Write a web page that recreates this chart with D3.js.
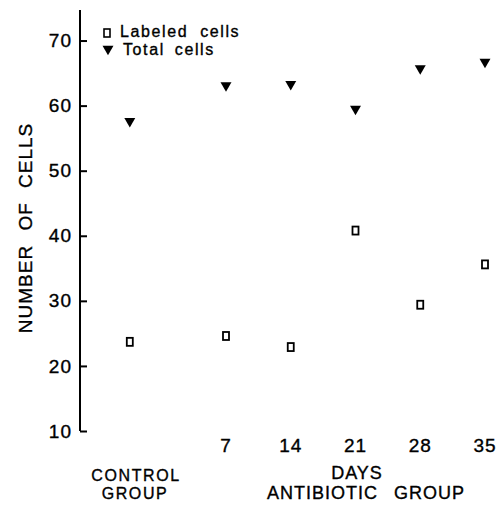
<!DOCTYPE html>
<html>
<head>
<meta charset="utf-8">
<script src="https://cdn.jsdelivr.net/npm/d3@7"></script>
<style>
  body { margin: 0; background: #fff; }
  text { font-family: "Liberation Sans", Arial, sans-serif; fill: #000; stroke: #000; stroke-width: 0.35px; }
</style>
</head>
<body>
<div id="chart"></div>
<script>
// Data
const days = [7, 14, 21, 28, 35];
const controlDay = -3.4; // where the control group sits on the day axis
const labeledControl = 23.7;
const totalControl = 57.6;
const labeledCells = [24.6, 22.9, 40.8, 29.4, 35.6];
const totalCells = [63.1, 63.3, 59.5, 65.7, 66.7];
const yTicks = [10, 20, 30, 40, 50, 60, 70];

const width = 501;
const height = 510;

const svg = d3.select('#chart')
  .append('svg')
  .attr('width', width)
  .attr('height', height);

// Scales
const x = d3.scaleLinear().domain([7, 35]).range([226, 485]);
const y = d3.scaleLinear().domain([10, 75]).range([431, 8]);

// Build points: control + antibiotic days
const labeledPts = [{ d: controlDay, v: labeledControl }]
  .concat(days.map((d, i) => ({ d, v: labeledCells[i] })));
const totalPts = [{ d: controlDay, v: totalControl }]
  .concat(days.map((d, i) => ({ d, v: totalCells[i] })));

// Y axis line
svg.append('line')
  .attr('x1', 80).attr('x2', 80)
  .attr('y1', y(74.7)).attr('y2', y(10))
  .attr('stroke', '#000')
  .attr('stroke-width', 2);

// Y ticks, pointing inward
const yAxis = svg.append('g')
  .attr('transform', 'translate(80,0)')
  .call(d3.axisLeft(y).tickValues(yTicks).tickSize(-7).tickPadding(8));
yAxis.select('.domain').remove();
yAxis.selectAll('line').attr('stroke-width', 2);
yAxis.selectAll('text')
  .style('font-size', '19px')
  .style('letter-spacing', '1px')
  .attr('font-family', null);

// Y axis title
svg.append('text')
  .attr('transform', 'translate(32,228) rotate(-90)')
  .attr('text-anchor', 'middle')
  .style('font-size', '19px')
  .style('letter-spacing', '1px')
  .style('word-spacing', '8px')
  .text('NUMBER OF CELLS');

// X tick labels (days)
svg.selectAll('.xtick')
  .data(days)
  .join('text')
  .attr('class', 'xtick')
  .attr('x', d => x(d))
  .attr('y', 452)
  .attr('text-anchor', 'middle')
  .style('font-size', '19px')
  .style('letter-spacing', '1px')
  .text(d => d);

// Group labels
svg.append('text')
  .attr('x', 136).attr('y', 481)
  .attr('text-anchor', 'middle')
  .style('font-size', '16px')
  .style('letter-spacing', '1.6px')
  .text('CONTROL');
svg.append('text')
  .attr('x', 135).attr('y', 499)
  .attr('text-anchor', 'middle')
  .style('font-size', '16px')
  .style('letter-spacing', '1.6px')
  .text('GROUP');
svg.append('text')
  .attr('x', 357).attr('y', 479)
  .attr('text-anchor', 'middle')
  .style('font-size', '18px')
  .style('letter-spacing', '1px')
  .text('DAYS');
svg.append('text')
  .attr('x', 366).attr('y', 499)
  .attr('text-anchor', 'middle')
  .style('font-size', '18px')
  .style('letter-spacing', '1px')
  .style('word-spacing', '10px')
  .text('ANTIBIOTIC GROUP');

// Markers
const triangle = d3.symbol().type(d3.symbolTriangle).size(52);

svg.selectAll('.total')
  .data(totalPts)
  .join('path')
  .attr('class', 'total')
  .attr('d', triangle)
  .attr('transform', d => `translate(${x(d.d)},${y(d.v)}) rotate(180)`)
  .attr('fill', '#000');

svg.selectAll('.labeled')
  .data(labeledPts)
  .join('rect')
  .attr('class', 'labeled')
  .attr('x', d => x(d.d) - 3)
  .attr('y', d => y(d.v) - 4)
  .attr('width', 6)
  .attr('height', 8)
  .attr('fill', 'none')
  .attr('stroke', '#000')
  .attr('stroke-width', 1.8);

// Legend
const legend = svg.append('g');
legend.append('rect')
  .attr('x', 104).attr('y', 29)
  .attr('width', 6).attr('height', 8)
  .attr('fill', 'none')
  .attr('stroke', '#000')
  .attr('stroke-width', 1.6);
legend.append('text')
  .attr('x', 120).attr('y', 37)
  .style('font-size', '16px')
  .style('letter-spacing', '1.6px')
  .style('word-spacing', '6px')
  .text('Labeled cells');
legend.append('path')
  .attr('d', triangle)
  .attr('transform', 'translate(108,49) rotate(180)')
  .attr('fill', '#000');
legend.append('text')
  .attr('x', 123).attr('y', 55)
  .style('font-size', '16px')
  .style('letter-spacing', '1.6px')
  .style('word-spacing', '4px')
  .text('Total cells');
</script>
</body>
</html>
